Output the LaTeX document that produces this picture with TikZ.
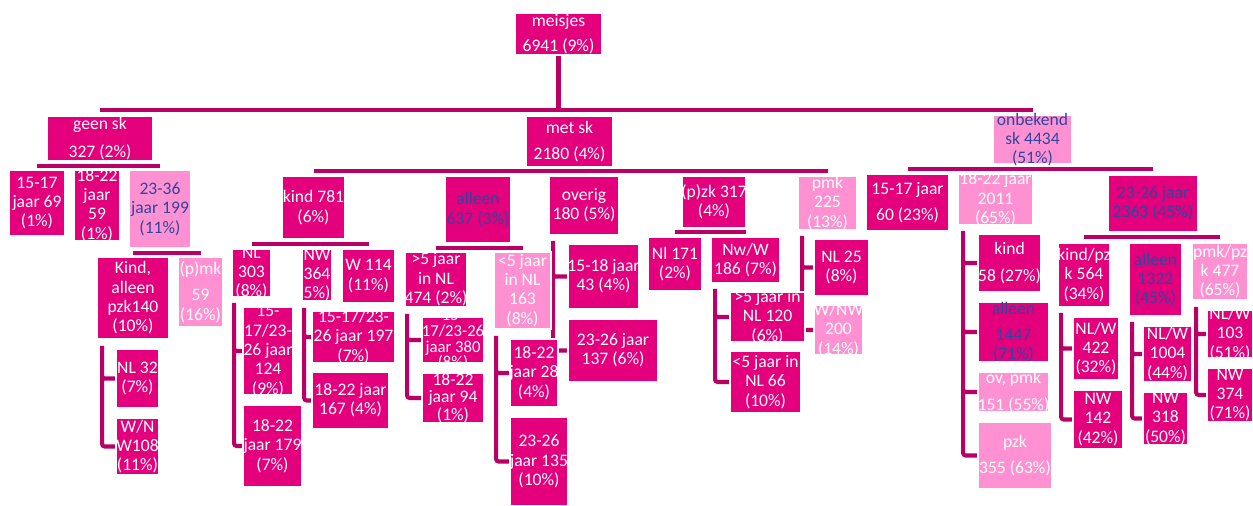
\documentclass[tikz,border=0pt]{standalone}
\usepackage{fontspec}
\setmainfont{Carlito}
\usetikzlibrary{positioning}
\definecolor{dk}{RGB}{228,0,124}
\definecolor{lt}{RGB}{255,145,210}
\definecolor{con}{RGB}{186,0,100}
\definecolor{navy}{RGB}{44,72,158}
\pgfdeclarelayer{bg}
\pgfsetlayers{bg,main}
\tikzset{sz/.style 2 args={minimum width=#1*0.02cm, minimum height=#2*0.02cm}}

\begin{document}
\begin{tikzpicture}[x=0.02cm, y=-0.02cm]
\tikzstyle{box}=[rectangle, draw=white, line width=1.1pt, inner sep=0]
\tikzstyle{dk}=[box, fill=dk]
\tikzstyle{lt}=[box, fill=lt]
\tikzstyle{txt}=[align=center, text=white, inner sep=0, font=\fontsize{10}{11}\selectfont]
\tikzstyle{bltxt}=[txt, text=navy]
\tikzstyle{bar}=[draw=con, line width=2.3pt]
\tikzstyle{brk}=[draw=con, line width=2.3pt, rounded corners=1.5pt]

\useasboundingbox (0,0) rectangle (1253,506);

% top
\node (meisjes) at (558.5,34) [dk, sz={87}{42}, label={[txt]center:meisjes\\[3pt]6941 (9\%)}] {};
\coordinate (top) at (0,110);

\node (geensk) at (100,138.5) [dk, sz={106}{45}, label={[txt]center:geen sk\\[5pt]327 (2\%)}] {};
\node (metsk) at (569.5,141.5) [dk, sz={87}{51}, label={[txt]center:met sk\\[4pt]2180 (4\%)}] {};
\node (onbekend) at (1032.5,139.5) [lt, sz={79}{49}, label={[bltxt]center:onbekend\\sk 4434\\(51\%)}] {};

% geen sk
\node (g1) at (37,203) [dk, sz={56}{66}, label={[txt]center:15-17\\jaar 69\\(1\%)}] {};
\node (g2) at (97,205.5) [dk, sz={46}{71}, label={[txt]center:18-22\\jaar\\59\\(1\%)}] {};
\node (g3) at (160,209) [lt, sz={62}{78}, label={[bltxt]center:23-36\\jaar 199\\(11\%)}] {};
\node (g3a) at (133,298) [dk, sz={72}{82}, label={[txt]center:Kind,\\alleen\\pzk140\\(10\%)}] {};
\node (g3b) at (200.5,292) [lt, sz={45}{70}, label={[txt]center:(p)mk\\[4pt]59\\(16\%)}] {};
\node (g3a1) at (137.5,378.5) [dk, sz={43}{59}, label={[txt]center:NL 32\\(7\%)}] {};
\node (g3a2) at (137.5,446.5) [dk, sz={43}{57}, label={[txt]center:W/N\\W108\\(11\%)}] {};

% met sk
\node (m1) at (313.5,207.5) [dk, sz={63}{63}, label={[txt]center:kind 781\\(6\%)}] {};
\node (m2) at (478,209.5) [dk, sz={66}{67}, label={[bltxt]center:alleen\\637 (3\%)}] {};
\node (m3) at (584,205.5) [dk, sz={70}{59}, label={[txt]center:overig\\180 (5\%)}] {};
\node (m4) at (714,202) [dk, sz={64}{52}, label={[txt]center:(p)zk 317\\(4\%)}] {};
\node (m5) at (827.5,203) [lt, sz={59}{54}, label={[txt]center:pmk\\225\\(13\%)}] {};

\node (m1a) at (251.5,273) [dk, sz={39}{48}, label={[txt]center:NL\\303\\(8\%)}] {};
\node (m1b) at (317,275) [dk, sz={30}{52}, label={[txt]center:NW\\364\\5\%)}] {};
\node (m1c) at (368.5,276) [dk, sz={53}{54}, label={[txt]center:W 114\\(11\%)}] {};
\node (m1a1) at (268,351) [dk, sz={50}{88}, label={[txt]center:15-\\17/23-\\26 jaar\\124\\(9\%)}] {};
\node (m1a2) at (272.5,446) [dk, sz={59}{82}, label={[txt]center:18-22\\jaar 179\\(7\%)}] {};
\node (m1b1) at (353.5,337) [dk, sz={83}{52}, label={[txt]center:15-17/23-\\26 jaar 197\\(7\%)}] {};
\node (m1b2) at (350.5,400.5) [dk, sz={77}{57}, label={[txt]center:18-22 jaar\\167 (4\%)}] {};

% the 15-17/23-26 box goes first, the boxes round it cover its overflow
\node (m2a1) at (453,340) [dk, sz={62}{46}, label={[txt, font=\fontsize{9.5}{9}\selectfont]center:15-\\17/23-26\\jaar 380\\(8\%)}] {};
\node (m2a) at (436,279.5) [dk, sz={62}{55}, label={[txt]center:>5 jaar\\in NL\\474 (2\%)}] {};
\node (m2b) at (522.5,290.5) [lt, sz={57}{77}, label={[txt]center:<5 jaar\\in NL\\163\\(8\%)}] {};
\node (m2a2) at (453,398) [dk, sz={62}{50}, label={[txt, font=\fontsize{10}{10}\selectfont]center:18-22\\jaar 94\\(1\%)}] {};
\node (m2b1) at (534,373) [dk, sz={48}{68}, label={[txt]center:18-22\\jaar 28\\(4\%)}] {};
\node (m2b2) at (539,461.5) [dk, sz={58}{89}, label={[txt]center:23-26\\jaar 135\\(10\%)}] {};

\node (m3a) at (603.5,276.5) [dk, sz={71}{65}, label={[txt]center:15-18 jaar\\43 (4\%)}] {};
\node (m3b) at (613,350.5) [dk, sz={90}{63}, label={[txt]center:23-26 jaar\\137 (6\%)}] {};

\node (m4a) at (675,264) [dk, sz={54}{54}, label={[txt]center:Nl 171\\(2\%)}] {};
\node (m4b) at (745.5,260) [dk, sz={69}{46}, label={[txt]center:Nw/W\\186 (7\%)}] {};
\node (m4b1) at (767.5,317) [dk, sz={75}{50}, label={[txt]center:>5 jaar in\\NL 120\\(6\%)}] {};
\node (m4b2) at (765.5,382) [dk, sz={71}{62}, label={[txt]center:<5 jaar in\\NL 66\\(10\%)}] {};

\node (m5a) at (841.5,267.5) [dk, sz={55}{57}, label={[txt]center:NL 25\\(8\%)}] {};
\node (m5b) at (838.5,330) [lt, sz={49}{50}, label={[txt]center:W/NW\\200\\(14\%)}] {};

% onbekend sk
\node (o1) at (907.5,202.5) [dk, sz={83}{57}, label={[txt]center:15-17 jaar\\[4pt]60 (23\%)}] {};
\node (o2) at (995.5,199.5) [lt, sz={75}{51}, label={[txt]center:18-22 jaar\\2011\\(65\%)}] {};
\node (o3) at (1153,203.5) [dk, sz={90}{57}, label={[bltxt]center:23-26 jaar\\2363 (45\%)}] {};

\node (o2a) at (1009.5,263) [dk, sz={63}{58}, label={[txt]center:kind\\[4pt]58 (27\%)}] {};
\node (o2b) at (1013.5,332) [dk, sz={71}{60}, label={[bltxt]center:alleen\\[4pt]1447\\(71\%)}] {};
\node (o2c) at (1013.5,392) [lt, sz={71}{40}, label={[txt]center:ov, pmk\\[4pt]151 (55\%)}] {};
\node (o2d) at (1015,455.5) [lt, sz={74}{67}, label={[txt]center:pzk\\[4pt]355 (63\%)}] {};

\node (o3a) at (1084,275) [dk, sz={52}{64}, label={[txt]center:kind/pz\\k 564\\(34\%)}] {};
\node (o3b) at (1155.5,279.5) [dk, sz={53}{73}, label={[bltxt]center:alleen\\1322\\(45\%)}] {};
\node (o3c) at (1220,271.5) [lt, sz={56}{57}, label={[txt]center:pmk/pz\\k 477\\(65\%)}] {};
\node (o3a1) at (1096,348.5) [dk, sz={46}{63}, label={[txt]center:NL/W\\422\\(32\%)}] {};
\node (o3a2) at (1098,419.5) [dk, sz={50}{59}, label={[txt]center:NW\\142\\(42\%)}] {};
\node (o3b1) at (1167.5,354) [dk, sz={49}{56}, label={[txt]center:NL/W\\1004\\(44\%)}] {};
\node (o3b2) at (1165.5,418.5) [dk, sz={45}{53}, label={[txt]center:NW\\318\\(50\%)}] {};
\node (o3c1) at (1230,334) [dk, sz={46}{48}, label={[txt]center:NL/W\\103\\(51\%)}] {};
\node (o3c2) at (1230,395) [dk, sz={46}{54}, label={[txt]center:NW\\374\\(71\%)}] {};

\begin{pgfonlayer}{bg}
% horizontal bars
\draw [bar] (meisjes.south) -- (meisjes |- top);
\draw [bar, line width=2.8pt] (geensk |- top) -- (onbekend |- top);
\path (geensk.south) ++(0,4) coordinate (b-geen);
\path (metsk.south) ++(0,3) coordinate (b-met);
\path (onbekend.south) ++(0,4) coordinate (b-onb);
\path (g3.south) ++(0,4) coordinate (b-g3);
\path (m1.south) ++(0,4) coordinate (b-m1);
\path (m2.south) ++(0,4) coordinate (b-m2);
\path (m4.south) ++(0,3) coordinate (b-m4);
\path (o3.south) ++(0,4) coordinate (b-o3);
\draw [bar] (g1 |- b-geen) -- (g3 |- b-geen);
\draw [bar] (m1 |- b-met) -- (m5 |- b-met);
\draw [bar] (o1 |- b-onb) -- (o3 |- b-onb);
\draw [bar] (g3a |- b-g3) -- (g3b |- b-g3);
\draw [bar] (m1a |- b-m1) -- (m1c |- b-m1);
\draw [bar] (m2a |- b-m2) -- (m2b |- b-m2);
\draw [bar] (m4a |- b-m4) -- (m4b |- b-m4);
\draw [bar] (o3a |- b-o3) -- (o3c |- b-o3);

% brackets
\draw [brk] (g3a.south west) ++(6,6) coordinate (k-g3a) |- (g3a1.west) (k-g3a) |- (g3a2.west);
\draw [brk] (m1a.south west) ++(3,5) coordinate (k-m1a) |- (m1a1.west) (k-m1a) |- (m1a2.west);
\draw [brk] (m1b.south west) ++(3,6) coordinate (k-m1b) |- (m1b1.west) (k-m1b) |- (m1b2.west);
\draw [brk] (m2a.south west) ++(3,6) coordinate (k-m2a) |- (m2a1.west) (k-m2a) |- (m2a2.west);
\draw [brk] (m2b.south west) ++(3,6) coordinate (k-m2b) |- (m2b1.west) (k-m2b) |- (m2b2.west);
\draw [brk] (m3.south west) ++(5,5) coordinate (k-m3) |- (m3a.west) (k-m3) |- (m3b.west);
\draw [brk] (m4b.south west) ++(5,5) coordinate (k-m4b) |- (m4b1.west) (k-m4b) |- (m4b2.west);
\draw [brk] (m5.south west) ++(5,5) coordinate (k-m5) |- (m5a.west) (k-m5) |- (m5b.west);
\draw [brk] (o2.south west) ++(6,5) coordinate (k-o2) |- (o2a.west) (k-o2) |- (o2b.west)
    (k-o2) |- (o2c.west) (k-o2) |- (o2d.west);
\draw [brk] (o3a.south west) ++(4,5) coordinate (k-o3a) |- (o3a1.west) (k-o3a) |- (o3a2.west);
\draw [brk] (o3b.south west) ++(4,5) coordinate (k-o3b) |- (o3b1.west) (k-o3b) |- (o3b2.west);
\draw [brk] (o3c.south west) ++(5,6) coordinate (k-o3c) |- (o3c1.west) (k-o3c) |- (o3c2.west);
\end{pgfonlayer}

\end{tikzpicture}
\end{document}
